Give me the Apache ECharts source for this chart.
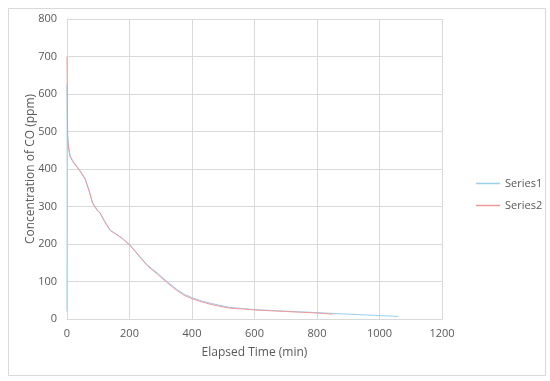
<!DOCTYPE html>
<html>
<head>
<meta charset="utf-8">
<script src="https://cdn.jsdelivr.net/npm/echarts@6/dist/echarts.min.js"></script>
<style>html,body{margin:0;padding:0;background:#fff;}#c{width:550px;height:381px;}</style>
</head>
<body>
<div id="c"></div>
<script>
const xTicks = [0, 200, 400, 600, 800, 1000, 1200];
const yTicks = [0, 100, 200, 300, 400, 500, 600, 700, 800];
const seriesNames = ['Series1', 'Series2'];
const series1 = [[0,20],[0.5,625],[2,490],[5,460],[10,435],[20,420],[40,398],[58,375],[70,345],[82,310],[96,292],[106,283],[120,262],[138,237],[155,228],[176,216],[202,197],[230,170],[256,145],[290,122],[320,100],[350,80],[375,66],[400,57],[430,48],[470,40],[520,31],[560,28],[602,25],[650,23],[700,21],[750,19],[800,17],[850,15],[900,13],[950,11],[1000,9],[1030,8],[1060,7]];
const series2 = [[0,700],[1,600],[2,480],[5,455],[10,432],[20,418],[40,396],[58,373],[70,343],[82,308],[96,290],[106,282],[120,260],[138,236],[155,227],[176,215],[202,196],[230,168],[256,143],[290,119],[320,97],[350,77],[375,63],[400,54],[430,46],[470,37],[520,29],[560,27],[602,24],[650,22],[700,20],[750,18],[800,16],[850,13]];

const chart = echarts.init(document.getElementById('c'), null, {renderer: 'canvas'});
const font = '"Open Sans", "Noto Sans", sans-serif';
const grey = '#595959';
const gridCol = '#d9d9d9';
const colors = ['#96d0ee', '#f29a9a'];
chart.setOption({
  animation: false,
  backgroundColor: '#fff',
  graphic: [{
    type: 'rect', left: 6, top: 6,
    shape: {width: 537, height: 367},
    style: {fill: 'none', stroke: gridCol, lineWidth: 1}
  }],
  grid: {left: 67, right: 108, top: 19, bottom: 62},
  legend: {
    orient: 'vertical', left: 471, top: 173, itemGap: 11,
    itemWidth: 24, itemHeight: 1.5, icon: 'rect',
    textStyle: {color: grey, fontFamily: font, fontSize: 11},
    data: seriesNames.map((n, i) => ({name: n, itemStyle: {color: colors[i], borderWidth: 0}}))
  },
  xAxis: {
    type: 'value', min: xTicks[0], max: xTicks[xTicks.length-1], interval: 200,
    name: 'Elapsed Time (min)', nameLocation: 'middle', nameGap: 28, nameMoveOverlap: false,
    nameTextStyle: {color: grey, fontFamily: font, fontSize: 12},
    axisLine: {show: true, lineStyle: {color: gridCol}},
    axisTick: {show: false},
    axisLabel: {color: grey, fontFamily: font, fontSize: 11, margin: 9, formatter: v => String(v)},
    splitLine: {show: true, lineStyle: {color: gridCol, width: 1}}
  },
  yAxis: {
    type: 'value', min: yTicks[0], max: yTicks[yTicks.length-1], interval: 100,
    name: 'Concentration of CO (ppm)', nameLocation: 'middle', nameGap: 30, nameMoveOverlap: false,
    nameTextStyle: {color: grey, fontFamily: font, fontSize: 12},
    axisLine: {show: true, lineStyle: {color: gridCol}},
    axisTick: {show: false},
    axisLabel: {color: grey, fontFamily: font, fontSize: 11, margin: 10, formatter: v => String(v)},
    splitLine: {show: true, lineStyle: {color: gridCol, width: 1}}
  },
  series: [
    {name: seriesNames[0], type: 'line', data: series1, showSymbol: false, symbol: 'none',
     lineStyle: {color: colors[0], width: 1}, itemStyle: {color: colors[0]}},
    {name: seriesNames[1], type: 'line', data: series2, showSymbol: false, symbol: 'none',
     lineStyle: {color: colors[1], width: 1}, itemStyle: {color: colors[1]}}
  ]
});
</script>
</body>
</html>
